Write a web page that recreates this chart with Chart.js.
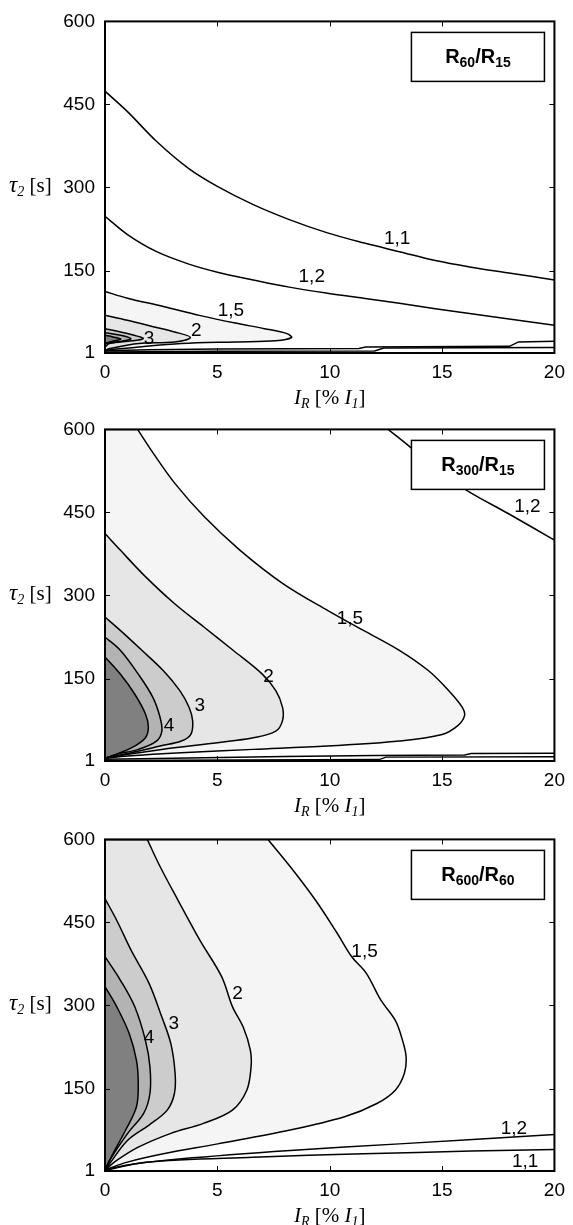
<!DOCTYPE html>
<html>
<head>
<meta charset="utf-8">
<script src="https://cdn.jsdelivr.net/npm/chart.js@4.4.0/dist/chart.umd.min.js"></script>
<style>
    body { margin: 0; background: #fff; }
    .panel { position: absolute; left: 0; width: 573px; }
</style>
</head>
<body>
<div class="panel" style="top:0px"><canvas id="c1" width="573" height="408"></canvas></div>
<div class="panel" style="top:408px"><canvas id="c2" width="573" height="410"></canvas></div>
<div class="panel" style="top:818px"><canvas id="c3" width="573" height="407"></canvas></div>
<script>
// ========================
// DATA
// ========================
const xTicks = [0, 5, 10, 15, 20];
const yTicks = [1, 150, 300, 450, 600];

// contour levels, darkest first
const levelShades = ['#808080', '#b3b3b3', '#cccccc', '#e6e6e6', '#f5f5f5'];

// --- R60/R15 ---
const r60r15_L5  = [[0,33],[0.35,30],[0.7,26],[0.2,21],[0,18]];
const r60r15_L4  = [[0,37.5],[0.7,33],[1.15,27],[0.85,23],[0,18]];
const r60r15_L3  = [[0,45],[0.7,39],[1.3,33],[1.7,27],[1.2,23],[0.2,18],[0,12]];
const r60r15_L2  = [[0,69],[1,60],[2.1,49],[3.1,39],[3.8,29],[3.1,21],[1.5,18],[0.2,9],[0,6]];
const r60r15_L15 = [[0,112],[1,100],[2.6,85],[4.2,69],[5.8,55],[7.1,45],[8.1,36],[8.3,29],[7.6,23],[5.8,21],[3.4,18],[1.5,12],[0,6]];
const r60r15_L12 = [[0,248],[1,215],[2.3,184],[3.7,162],[5,147],[6.6,133],[8.2,120],[9.9,109],[11.5,100],[13.1,91],[14.7,81],[16.3,72],[17.9,63],[20,51]];
const r60r15_L11 = [[0,474],[1,437],[2.3,383],[3.7,335],[5,302],[6.6,269],[8.2,242],[9.9,218],[11.5,200],[13.1,184],[14.7,168],[16.3,156],[17.9,146],[20,133]];
const r60r15_low12 = [[0,5],[2,7],[5,8],[11.3,9],[11.6,12],[18,13],[18.4,21],[20,22]];
const r60r15_low11 = [[0,3],[5,4],[12,4.5],[12.4,10],[20,11]];
const r60r15_labels = ['1,1', '1,2', '1,5', '2', '3'];
const r60r15_labelX = [13.0, 9.2, 5.6, 4.06, 1.96];
const r60r15_labelY = [208, 138, 78, 42, 27];

// --- R300/R15 ---
const r300r15_L5  = [[0,189],[0.68,158],[1.32,122],[1.8,86],[1.93,62],[1.8,43],[1.32,28],[0.68,16],[0,6]];
const r300r15_L4  = [[0,225],[0.68,201],[1.48,158],[2.13,116],[2.45,80],[2.53,55],[2.29,37],[1.48,22],[0.5,13],[0,6]];
const r300r15_L3  = [[0,261],[0.68,237],[1.64,201],[2.6,164],[3.33,128],[3.74,98],[3.9,74],[3.82,49],[3.4,37],[2.45,28],[1.16,16],[0.2,8],[0,6]];
const r300r15_L2  = [[0,412],[0.68,382],[1.8,334],[3.1,285],[4.4,243],[5.7,201],[7,158],[7.6,128],[7.9,98],[7.9,74],[7.6,55],[6.6,43],[5,34],[3.1,25],[1.5,16],[0.2,8],[0,6]];
const r300r15_L15 = [[0,600],[1.45,600],[2.13,558],[3.1,503],[4.4,443],[6,382],[7.9,322],[9.9,273],[11.5,237],[13.1,201],[14.4,164],[15.3,128],[15.9,98],[16,83],[15.7,65],[15,49],[13.1,37],[9.9,28],[6.6,22],[3.4,16],[1,10],[0,6]];
const r300r15_L12 = [[12.6,600],[13.7,564],[14.7,527],[16.3,485],[17.9,449],[20,400]];
const r300r15_low12 = [[0,4],[3,6],[8,9],[12,11],[16,12],[16.3,14.5],[20,15]];
const r300r15_low11 = [[0,2],[6,3],[12.2,3.5],[12.5,8],[20,8.5]];
const r300r15_labels = ['1,2', '1,5', '2', '3', '4'];
const r300r15_labelX = [18.8, 10.9, 7.28, 4.22, 2.85];
const r300r15_labelY = [460, 258, 154, 101, 65];

// --- R600/R60 ---
const r600r60_L5  = [[0,334],[0.52,298],[1.08,249],[1.4,201],[1.48,159],[1.4,117],[0.92,75],[0.35,32],[0,3]];
const r600r60_L4  = [[0,388],[0.68,346],[1.32,298],[1.8,237],[2,189],[2,141],[1.72,105],[1,68.5],[0.2,20],[0,3]];
const r600r60_L3  = [[0,493],[0.52,454],[1.16,400],[1.96,340],[2.53,279],[2.93,231],[3.12,177],[3.09,141],[2.77,111],[1.96,84],[1,56],[0.2,14],[0,3]];
const r600r60_L2  = [[0,600],[1.88,600],[2.45,551],[3.25,490],[4.22,418],[5.19,352],[5.67,298],[6.15,261],[6.47,219],[6.5,189],[6.31,147],[5.67,111],[4.38,87],[2.93,69],[1.48,44],[0.52,20],[0,3]];
const r600r60_L15 = [[0,600],[7.25,600],[8.24,551],[9.37,490],[10.34,430],[10.98,388],[11.63,358],[12.27,310],[12.92,273],[13.24,237],[13.4,207],[13.32,177],[12.92,147],[12.1,123],[10.66,99],[8.24,75],[5.02,50],[2.6,32],[1,17],[0,3]];
const r600r60_low12 = [[0,3],[1,12],[3.4,23],[8.24,38],[13.1,50],[20,67]];
const r600r60_low11 = [[0,2],[1.8,17],[6.6,26],[11.5,32],[16.3,37],[20,40]];
const r600r60_labels = ['1,5', '2', '3', '4', '1,2', '1,1'];
const r600r60_labelX = [11.55, 5.9, 3.06, 1.96, 18.2, 18.7];
const r600r60_labelY = [397, 322, 267, 242, 78, 17];

// legend titles: [main, sub, main, sub]
const titles = [
    ['R', '60', '/R', '15'],
    ['R', '300', '/R', '15'],
    ['R', '600', '/R', '60']
];

// ========================
// DRAWING HELPERS
// ========================
const SANS = '"Liberation Sans", Arial, sans-serif';
const SERIF = '"Liberation Serif", "Times New Roman", serif';

function drawRich(ctx, parts, x, y, align) {
    let w = 0;
    parts.forEach(p => { ctx.font = p.font; p.w = ctx.measureText(p.t).width; w += p.w; });
    let cx = align === 'center' ? x - w / 2 : x;
    ctx.textAlign = 'left';
    ctx.textBaseline = 'alphabetic';
    parts.forEach(p => { ctx.font = p.font; ctx.fillText(p.t, cx, y + (p.dy || 0)); cx += p.w; });
}

// points on the top edge are doubled so the spline doesn't bend along the border
function toPoints(pts) {
    const out = [];
    pts.forEach(p => {
        out.push({ x: p[0], y: p[1] });
        if (p[1] >= 600) out.push({ x: p[0], y: p[1] });
    });
    return out;
}

function contourLine(pts, shade, tension) {
    return {
        data: toPoints(pts),
        showLine: true,
        pointRadius: 0,
        borderColor: '#000',
        borderWidth: 1.5,
        tension: tension,
        fill: shade ? 'shape' : false,
        backgroundColor: shade || 'transparent'
    };
}

const framePlugin = {
    id: 'frame',
    afterDatasetsDraw(chart) {
        const { ctx, chartArea: a, scales: { x, y } } = chart;
        const o = chart.options.plugins.frame;
        ctx.save();
        ctx.fillStyle = '#000';
        ctx.strokeStyle = '#000';

        // contour labels
        ctx.font = '19px ' + SANS;
        ctx.textAlign = 'center';
        ctx.textBaseline = 'middle';
        o.labels.forEach((t, i) => {
            ctx.fillText(t, x.getPixelForValue(o.labelX[i]), y.getPixelForValue(o.labelY[i]));
        });

        // box + inward ticks
        ctx.lineWidth = 2;
        ctx.strokeRect(a.left, a.top, a.right - a.left, a.bottom - a.top);
        ctx.lineWidth = 1;
        ctx.beginPath();
        xTicks.slice(1, -1).forEach(v => {
            const px = Math.round(x.getPixelForValue(v)) + 0.5;
            ctx.moveTo(px, a.bottom); ctx.lineTo(px, a.bottom - 5);
            ctx.moveTo(px, a.top); ctx.lineTo(px, a.top + 5);
        });
        yTicks.slice(1, -1).forEach(v => {
            const py = Math.round(y.getPixelForValue(v)) + 0.5;
            ctx.moveTo(a.left, py); ctx.lineTo(a.left + 5, py);
            ctx.moveTo(a.right, py); ctx.lineTo(a.right - 5, py);
        });
        ctx.stroke();

        // legend box
        const bw = 133, bh = 49;
        const bx = a.right - 10 - bw, by = a.top + 11;
        ctx.fillStyle = '#fff';
        ctx.fillRect(bx, by, bw, bh);
        ctx.lineWidth = 1.5;
        ctx.strokeRect(bx, by, bw, bh);
        ctx.fillStyle = '#000';
        const t = o.title;
        drawRich(ctx, [
            { t: t[0], font: 'bold 20px ' + SANS },
            { t: t[1], font: 'bold 14px ' + SANS, dy: 4 },
            { t: t[2], font: 'bold 20px ' + SANS },
            { t: t[3], font: 'bold 14px ' + SANS, dy: 4 }
        ], bx + bw / 2, by + bh / 2 + 6, 'center');

        // axis titles
        drawRich(ctx, [
            { t: 'I', font: 'italic 21px ' + SERIF },
            { t: 'R', font: 'italic 14px ' + SERIF, dy: 4 },
            { t: ' [% ', font: '21px ' + SERIF },
            { t: 'I', font: 'italic 21px ' + SERIF },
            { t: '1', font: 'italic 14px ' + SERIF, dy: 4 },
            { t: ']', font: '21px ' + SERIF }
        ], (a.left + a.right) / 2, a.bottom + 51, 'center');
        drawRich(ctx, [
            { t: 'τ', font: 'italic 23px ' + SERIF },
            { t: '2', font: 'italic 14px ' + SERIF, dy: 4 },
            { t: ' [s]', font: '21px ' + SERIF }
        ], 9, y.getPixelForValue(300) + 5, 'left');
        ctx.restore();
    }
};

// levels: shaded closed contours; smooth: open curves; stepped: the low branches near the axis
function makeChart(id, levels, smooth, stepped, labels, labelX, labelY, title) {
    const canvas = document.getElementById(id);
    const H = canvas.height;
    const datasets = [];
    levels.forEach((pts, i) => datasets.push(contourLine(pts, levelShades[i], 0.35)));
    smooth.forEach(pts => datasets.push(contourLine(pts, null, 0.35)));
    stepped.forEach(pts => datasets.push(contourLine(pts, null, 0)));
    return new Chart(canvas, {
        type: 'scatter',
        data: { datasets: datasets },
        options: {
            responsive: false,
            animation: false,
            layout: { padding: { top: 21, right: 14, left: 0, bottom: 0 } },
            plugins: {
                legend: { display: false },
                tooltip: { enabled: false },
                filler: { drawTime: 'beforeDatasetsDraw' },
                frame: { labels: labels, labelX: labelX, labelY: labelY, title: title }
            },
            scales: {
                x: {
                    type: 'linear', min: 0, max: 20,
                    ticks: { stepSize: 5, padding: 8, color: '#000', maxRotation: 0, font: { family: SANS, size: 19 } },
                    grid: { display: false, drawTicks: false },
                    border: { display: false },
                    afterFit: s => { s.height = H - 21 - 332; }
                },
                y: {
                    type: 'linear', min: 1, max: 600,
                    afterBuildTicks: s => { s.ticks = yTicks.map(v => ({ value: v })); },
                    ticks: { padding: 10, color: '#000', font: { family: SANS, size: 19 } },
                    grid: { display: false, drawTicks: false },
                    border: { display: false },
                    afterFit: s => { s.width = 105; }
                }
            }
        },
        plugins: [framePlugin]
    });
}

makeChart('c1',
    [r60r15_L5, r60r15_L4, r60r15_L3, r60r15_L2, r60r15_L15],
    [r60r15_L12, r60r15_L11],
    [r60r15_low12, r60r15_low11],
    r60r15_labels, r60r15_labelX, r60r15_labelY, titles[0]);

makeChart('c2',
    [r300r15_L5, r300r15_L4, r300r15_L3, r300r15_L2, r300r15_L15],
    [r300r15_L12],
    [r300r15_low12, r300r15_low11],
    r300r15_labels, r300r15_labelX, r300r15_labelY, titles[1]);

makeChart('c3',
    [r600r60_L5, r600r60_L4, r600r60_L3, r600r60_L2, r600r60_L15],
    [r600r60_low12, r600r60_low11],
    [],
    r600r60_labels, r600r60_labelX, r600r60_labelY, titles[2]);
</script>
</body>
</html>
